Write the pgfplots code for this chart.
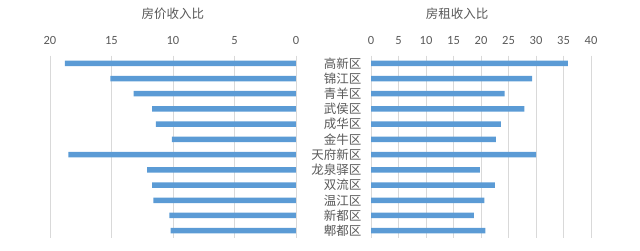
\documentclass[border=0pt]{standalone}
\usepackage{fontspec}
\setmainfont{Carlito}
\newfontfamily\cjk{Noto Sans CJK SC}
\usepackage{pgfplots}
\usepackage{pgfplotstable}
\pgfplotsset{compat=1.18}
\definecolor{barblue}{HTML}{5B9BD5}
\definecolor{gridgray}{HTML}{D9D9D9}
\definecolor{txtgray}{HTML}{595959}
\pgfplotstableread{
idx price rent
0 18.8 35.8
1 15.1 29.3
2 13.2 24.3
3 11.7 27.9
4 11.4 23.6
5 10.1 22.7
6 18.5 30.0
7 12.1 19.8
8 11.7 22.5
9 11.6 20.6
10 10.3 18.7
11 10.2 20.8
}\data
\pgfplotsset{
  panel/.style={
    scale only axis,
    height=182.6pt,
    ymin=-0.5, ymax=11.5,
    y dir=reverse,
    ytick={0,...,11},
    axis line style={draw=none},
    major tick length=0pt,
    xmajorgrids,
    major grid style={gridgray, line width=0.8pt},
    xticklabel pos=upper,
    /pgf/number format/assume math mode=true,
    xticklabel style={font=\fontsize{12.5}{14}\selectfont, text=txtgray, yshift=8pt},
    title style={font=\cjk\fontsize{12.5}{14}\selectfont, text=txtgray, anchor=center},
    anchor=south west,
  }
}
\begin{document}
\begin{tikzpicture}
\path[use as bounding box] (0,0) rectangle (640pt,251pt);
\begin{axis}[panel,
  at={(50pt,12.7pt)},
  width=246pt,
  xmin=0, xmax=20, x dir=reverse,
  xtick={0,5,10,15,20},
  yticklabels={},
  title={房价收入比},
  title style={at={(0.5,1)}, yshift=36pt},
]
\addplot[xbar, bar width=5.5pt, fill=barblue, draw=none] table[x=price, y=idx]{\data};
\end{axis}
\begin{axis}[panel,
  at={(371pt,12.7pt)},
  width=220pt,
  xmin=0, xmax=40,
  xtick={0,5,...,40},
  yticklabels={高新区,锦江区,青羊区,武侯区,成华区,金牛区,天府新区,龙泉驿区,双流区,温江区,新都区,郫都区},
  yticklabel style={font=\cjk\fontsize{12.5}{14}\selectfont, text=txtgray, anchor=east, xshift=-6pt},
  title={房租收入比},
  title style={at={(0.5,1)}, xshift=-24pt, yshift=36pt},
]
\addplot[xbar, bar width=5.5pt, fill=barblue, draw=none] table[x=rent, y=idx]{\data};
\end{axis}
\end{tikzpicture}
\end{document}
